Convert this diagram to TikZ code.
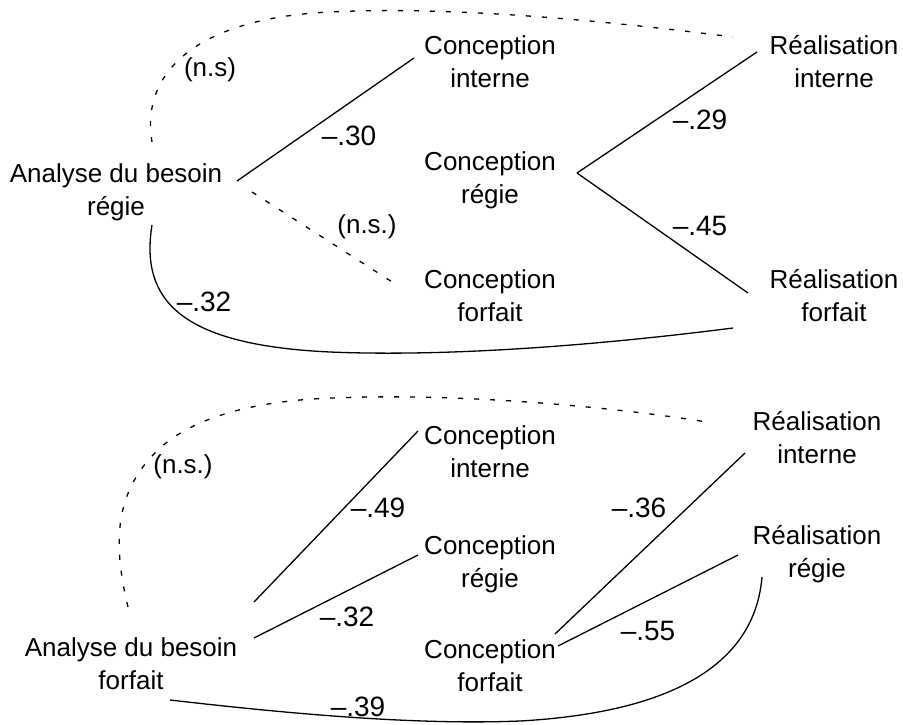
\documentclass[tikz,border=0pt]{standalone}
\usepackage{fontspec}
\setmainfont{Liberation Sans}
\usetikzlibrary{calc}
\tikzset{
  box/.style={align=center, inner sep=0pt, font=\fontsize{26}{33}\selectfont},
  coef/.style={inner sep=0pt, font=\fontsize{28}{30}\selectfont},
  link/.style={line width=1.3pt},
  ns/.style={line width=1.3pt, dash pattern=on 5pt off 11pt},
}
\begin{document}
\begin{tikzpicture}[x=1pt,y=-1pt]
\useasboundingbox (0,0) rectangle (903,724);
% top panel
\node[box] (ar) at (116,192) {Analyse du besoin\\régie};
\node[box] (ci1) at (490,62) {Conception\\interne};
\node[box] (cr1) at (490,180) {Conception\\régie};
\node[box] (cf1) at (490,296) {Conception\\forfait};
\node[box] (ri1) at (834,62) {Réalisation\\interne};
\node[box] (rf1) at (834,296) {Réalisation\\forfait};

\draw[link] ($(ar)+(121,-11)$) -- ($(ci1)+(-76,-4)$);
\draw[ns] ($(ar)+(136,0)$) -- ($(cf1)+(-90,-9)$);
\draw[link] ($(cr1)+(87,-7)$) -- ($(ri1)+(-77,-10)$);
\draw[link] ($(cr1)+(87,-7)$) -- ($(rf1)+(-86,-3)$);
\draw[ns] ($(ar)+(36,-50)$) .. controls (140,70) and (200,18) .. (330,12)
   .. controls (450,6) and (600,20) .. ($(ri1)+(-101,-25)$);
\draw[link] ($(ar)+(36,33)$) .. controls (140,300) and (180,345) .. (330,352)
   .. controls (450,357) and (600,345) .. ($(rf1)+(-101,32)$);

\node[box] (ns1) at (210,70) {(n.s)};
\node[coef] (c30) at (349,136) {–.30};
\node[box] (ns2) at (367,227) {(n.s.)};
\node[coef] (c32a) at (204,302) {–.32};
\node[coef] (c29) at (700,120) {–.29};
\node[coef] (c45) at (700,226) {–.45};

% bottom panel
\node[box] (af) at (131,664) {Analyse du besoin\\forfait};
\node[box] (ci2) at (490,452) {Conception\\interne};
\node[box] (cr2) at (490,564) {Conception\\régie};
\node[box] (cf2) at (490,666) {Conception\\forfait};
\node[box] (ri2) at (817,438) {Réalisation\\interne};
\node[box] (rr2) at (817,554) {Réalisation\\régie};

\draw[link] ($(af)+(123,-62)$) -- ($(ci2)+(-72,-21)$);
\draw[link] ($(af)+(123,-26)$) -- ($(cr2)+(-72,-9)$);
\draw[link] ($(cf2)+(65,-32)$) -- ($(ri2)+(-72,15)$);
\draw[link] ($(cf2)+(68,-20)$) -- ($(rr2)+(-79,1)$);
\draw[link] ($(af)+(39,36)$) .. controls (300,715) and (420,725) .. (520,721)
   .. controls (680,712) and (755,660) .. ($(rr2)+(-55,23)$);
\draw[ns] ($(af)+(-3,-57)$) .. controls (112,540) and (115,490) .. (160,448)
   .. controls (200,412) and (270,400) .. (333,398)
   .. controls (450,393) and (600,405) .. ($(ri2)+(-110,-16)$);

\node[box] (ns3) at (183,467) {(n.s.)};
\node[coef] (c49) at (378,508) {–.49};
\node[coef] (c32b) at (347,617) {–.32};
\node[coef] (c39) at (358,707) {–.39};
\node[coef] (c36) at (639,508) {–.36};
\node[coef] (c55) at (648,631) {–.55};
\end{tikzpicture}
\end{document}
